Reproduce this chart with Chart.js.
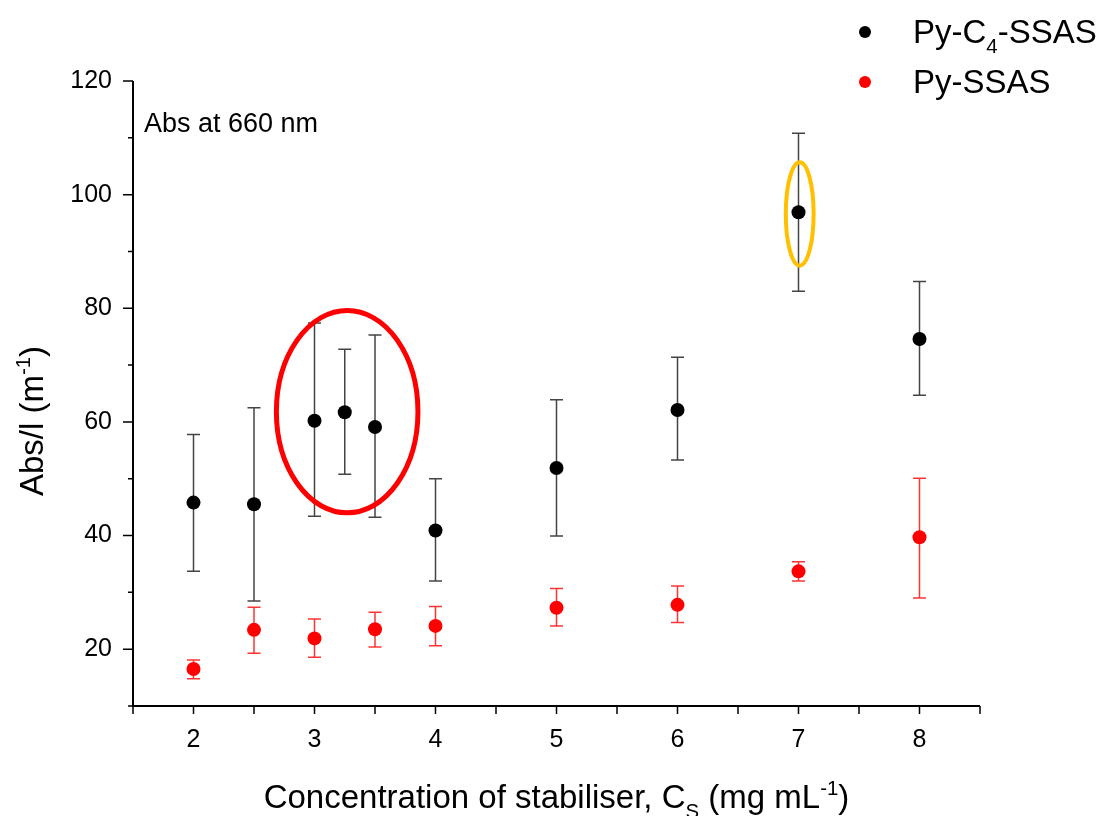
<!DOCTYPE html>
<html lang="en">
<head>
<meta charset="UTF-8">
<title>Abs/l vs concentration of stabiliser</title>
<style>
  html, body { margin: 0; padding: 0; background: #fff; }
  #wrap { width: 1102px; height: 816px; }
</style>
<script src="https://cdn.jsdelivr.net/npm/chart.js"></script>
</head>
<body>
<div id="wrap"><canvas id="chart" width="1102" height="816"></canvas></div>
<script>
// Py-C4-SSAS: concentration (mg/mL), Abs/l (1/m) and error bar ends
const concC4 = [2, 2.5, 3, 3.25, 3.5, 4, 5, 6, 7, 8];
const absC4  = [45.8, 45.5, 60.2, 61.7, 59.1, 40.9, 51.9, 62.1, 96.9, 74.6];
const c4Low  = [33.7, 28.5, 43.4, 50.8, 43.2, 32.0, 39.9, 53.3, 83.0, 64.7];
const c4High = [57.8, 62.5, 77.4, 72.8, 75.3, 50.0, 63.9, 71.4, 110.8, 84.7];

// Py-SSAS
const concPy = [2, 2.5, 3, 3.5, 4, 5, 6, 7, 8];
const absPy  = [16.5, 23.4, 21.9, 23.5, 24.1, 27.3, 27.8, 33.7, 39.7];
const pyLow  = [14.8, 19.3, 18.6, 20.4, 20.6, 24.1, 24.7, 32.0, 29.0];
const pyHigh = [18.1, 27.4, 25.3, 26.5, 27.5, 30.7, 31.1, 35.4, 50.1];

const xLabels = [2, 3, 4, 5, 6, 7, 8];
const yLabels = [20, 40, 60, 80, 100, 120];

const FONT = "'Liberation Sans', Arial, sans-serif";

// highlight ellipses, in data units: centre x, centre y, half width, half height
const ellipses = [
    { cx: 3.27, cy: 61.8, rx: 0.585, ry: 17.8, color: '#ff0000', width: 5 },
    { cx: 7.01, cy: 96.6, rx: 0.115, ry: 9.1, color: '#ffc000', width: 4 }
];

function drawRuns(ctx, runs, x, y, size, align) {
    // runs: [text, ''|'sub'|'sup']
    let total = 0;
    runs.forEach(r => {
        ctx.font = (r[1] ? size * 0.62 : size) + 'px ' + FONT;
        total += ctx.measureText(r[0]).width;
    });
    let cx = align === 'center' ? x - total / 2 : x;
    runs.forEach(r => {
        const s = r[1] ? size * 0.62 : size;
        ctx.font = s + 'px ' + FONT;
        const dy = r[1] === 'sub' ? size * 0.3 : (r[1] === 'sup' ? -size * 0.4 : 0);
        ctx.fillText(r[0], cx, y + dy);
        cx += ctx.measureText(r[0]).width;
    });
}

function errorBars(ctx, xs, ys, lo, hi, color, sx, sy) {
    ctx.strokeStyle = color;
    ctx.lineWidth = 1.5;
    for (let i = 0; i < xs.length; i++) {
        const px = sx.getPixelForValue(xs[i]);
        const top = sy.getPixelForValue(hi[i]);
        const bot = sy.getPixelForValue(lo[i]);
        ctx.beginPath();
        ctx.moveTo(px, top); ctx.lineTo(px, bot);
        ctx.moveTo(px - 6.5, top); ctx.lineTo(px + 6.5, top);
        ctx.moveTo(px - 6.5, bot); ctx.lineTo(px + 6.5, bot);
        ctx.stroke();
    }
}

const extras = {
    id: 'extras',
    beforeDatasetsDraw(chart) {
        const ctx = chart.ctx, sx = chart.scales.x, sy = chart.scales.y;
        ctx.save();
        errorBars(ctx, concC4, absC4, c4Low, c4High, '#444444', sx, sy);
        errorBars(ctx, concPy, absPy, pyLow, pyHigh, 'rgba(255,0,0,0.8)', sx, sy);
        ctx.restore();
    },
    afterDatasetsDraw(chart) {
        const ctx = chart.ctx, sx = chart.scales.x, sy = chart.scales.y;
        ctx.save();
        ellipses.forEach(e => {
            const cx = sx.getPixelForValue(e.cx), cy = sy.getPixelForValue(e.cy);
            const rx = Math.abs(sx.getPixelForValue(e.cx + e.rx) - cx);
            const ry = Math.abs(sy.getPixelForValue(e.cy + e.ry) - cy);
            ctx.beginPath();
            ctx.ellipse(cx, cy, rx, ry, 0, 0, Math.PI * 2);
            ctx.strokeStyle = e.color;
            ctx.lineWidth = e.width;
            ctx.stroke();
        });
        ctx.restore();
    },
    afterDraw(chart) {
        const ctx = chart.ctx, sx = chart.scales.x, sy = chart.scales.y;
        const a = chart.chartArea;
        ctx.save();
        // axes
        ctx.strokeStyle = '#000';
        ctx.lineWidth = 2;
        ctx.beginPath();
        ctx.moveTo(a.left, a.top); ctx.lineTo(a.left, a.bottom); ctx.lineTo(a.right, a.bottom);
        ctx.stroke();
        ctx.lineWidth = 1.5;
        ctx.beginPath();
        sx.ticks.forEach(t => {
            const px = sx.getPixelForValue(t.value);
            ctx.moveTo(px, a.bottom); ctx.lineTo(px, a.bottom + 8);
        });
        sy.ticks.forEach(t => {
            const py = sy.getPixelForValue(t.value);
            const len = yLabels.includes(t.value) ? 10 : 5;
            ctx.moveTo(a.left, py); ctx.lineTo(a.left - len, py);
        });
        ctx.stroke();

        ctx.fillStyle = '#000';
        ctx.textBaseline = 'alphabetic';
        ctx.textAlign = 'left';
        // annotation
        drawRuns(ctx, [['Abs at 660 nm', '']], a.left + 11, 132, 27, 'left');

        // x title
        drawRuns(ctx, [['Concentration of stabiliser, C', ''], ['S', 'sub'], [' (mg mL', ''], ['-1', 'sup'], [')', '']],
            (a.left + a.right) / 2, 808, 33, 'center');

        // y title
        ctx.save();
        ctx.translate(43, 421);
        ctx.rotate(-Math.PI / 2);
        drawRuns(ctx, [['Abs/l (m', ''], ['-1', 'sup'], [')', '']], 0, 0, 33, 'center');
        ctx.restore();

        // legend
        const leg = [
            { color: '#000', y: 32, runs: [['Py-C', ''], ['4', 'sub'], ['-SSAS', '']] },
            { color: '#ff0000', y: 82, runs: [['Py-SSAS', '']] }
        ];
        leg.forEach(l => {
            ctx.fillStyle = l.color;
            ctx.beginPath();
            ctx.arc(865, l.y, 6, 0, Math.PI * 2);
            ctx.fill();
            ctx.fillStyle = '#000';
            drawRuns(ctx, l.runs, 913, l.y + 11, 33, 'left');
        });
        ctx.restore();
    }
};

new Chart(document.getElementById('chart').getContext('2d'), {
    type: 'scatter',
    data: {
        datasets: [{
            label: 'Py-C4-SSAS',
            data: concC4.map((c, i) => ({ x: c, y: absC4[i] })),
            backgroundColor: '#000',
            borderWidth: 0,
            pointRadius: 7,
            pointHoverRadius: 7
        }, {
            label: 'Py-SSAS',
            data: concPy.map((c, i) => ({ x: c, y: absPy[i] })),
            backgroundColor: '#ff0000',
            borderWidth: 0,
            pointRadius: 7,
            pointHoverRadius: 7
        }]
    },
    options: {
        responsive: false,
        animation: false,
        devicePixelRatio: 1,
        layout: { padding: { left: 0, top: 81, right: 122, bottom: 0 } },
        plugins: { legend: { display: false }, tooltip: { enabled: false } },
        scales: {
            x: {
                type: 'linear',
                min: 1.5, max: 8.5,
                afterFit: s => { s.height = 110; },
                grid: { display: false, drawTicks: false },
                border: { display: false },
                ticks: {
                    stepSize: 0.5,
                    autoSkip: false,
                    maxRotation: 0,
                    padding: 19,
                    color: '#000',
                    font: { family: FONT, size: 25 },
                    callback: v => xLabels.includes(v) ? String(v) : ''
                }
            },
            y: {
                min: 10, max: 120,
                afterFit: s => { s.width = 133; },
                grid: { display: false, drawTicks: false },
                border: { display: false },
                ticks: {
                    stepSize: 10,
                    autoSkip: false,
                    padding: 21,
                    color: '#000',
                    font: { family: FONT, size: 25 },
                    callback: v => yLabels.includes(v) ? String(v) : ''
                }
            }
        }
    },
    plugins: [extras]
});
</script>
</body>
</html>
